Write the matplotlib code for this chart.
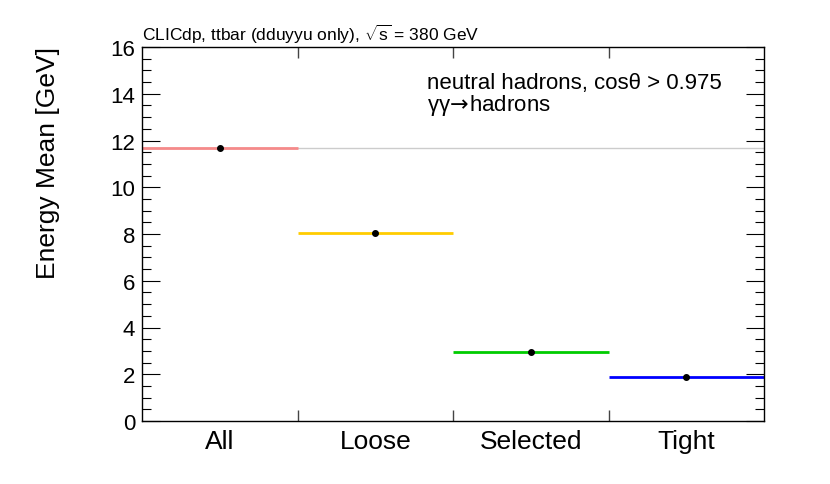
import numpy as np
import matplotlib
matplotlib.use("Agg")
import matplotlib.pyplot as plt
from matplotlib.ticker import MultipleLocator

plt.rcParams['font.family'] = ['Liberation Sans', 'DejaVu Sans']
plt.rcParams['mathtext.fontset'] = 'custom'
plt.rcParams['mathtext.rm'] = 'Liberation Sans'
plt.rcParams['mathtext.it'] = 'Liberation Sans:italic'
plt.rcParams['mathtext.sf'] = 'DejaVu Sans'

categories = ["All", "Loose", "Selected", "Tight"]
energy_mean = [11.68, 8.04, 2.95, 1.90]
colors = ["#f58a8a", "#ffcc00", "#00cc00", "#0000ff"]

fig = plt.figure(figsize=(8.3, 4.85), dpi=100)
ax = fig.add_axes([142/830, 1-422/485, 622/830, 374/485])

x = np.arange(len(categories))
# reference line at the "All" value
ax.axhline(energy_mean[0], color="#cccccc", lw=1.0, zorder=1)
for i, (v, c) in enumerate(zip(energy_mean, colors)):
    ax.hlines(v, i, i + 1, color=c, lw=2.0, zorder=2)
ax.plot(x + 0.5, energy_mean, 'o', color='black', ms=4, zorder=3)

ax.set_xlim(0, len(categories))
ax.set_ylim(0, 16)

ax.set_xticks(x + 0.5)
ax.set_xticklabels(categories, fontsize=19)
ax.set_xticks(x[1:], minor=True)
ax.tick_params(axis='x', which='major', length=0, pad=6)
ax.tick_params(axis='x', which='minor', direction='in', length=8, width=1,
               top=True, bottom=True, color='#444444')

ax.yaxis.set_major_locator(MultipleLocator(2))
ax.yaxis.set_minor_locator(MultipleLocator(0.5))
ax.tick_params(axis='y', which='major', direction='in', length=13, width=0.8,
               left=True, right=True, labelsize=16, pad=5)
ax.tick_params(axis='y', which='minor', direction='in', length=6.5, width=0.8,
               left=True, right=True)

for s in ax.spines.values():
    s.set_linewidth(1.0)

fig.text(48/830, 1-47/485, "Energy Mean [GeV]", rotation=90, ha='center',
         va='top', fontsize=19)
fig.text(142/830, 1-41/485, r"CLICdp, ttbar (dduyyu only), $\sqrt{\mathrm{s}}$ = 380 GeV",
         ha='left', va='baseline', fontsize=12.5)

fig.text(427/830, 1-73/485,
         "neutral hadrons, cosθ > 0.975\n" + r"γγ$\!\mathsf{\rightarrow}\!$hadrons",
         ha='left', va='top', fontsize=16, linespacing=0.92)

fig.savefig("out.png", dpi=100)
